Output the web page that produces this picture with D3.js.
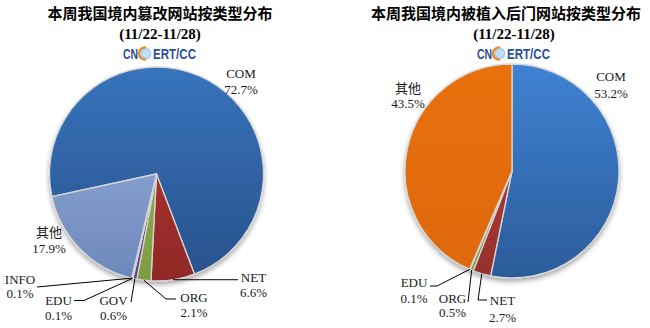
<!DOCTYPE html>
<html>
<head>
<meta charset="utf-8">
<script src="https://cdn.jsdelivr.net/npm/d3@7"></script>
<style>
  html, body { margin: 0; padding: 0; background: #fff; }
  svg { display: block; }
</style>
</head>
<body>
<svg id="chart" width="650" height="328"></svg>
<script>
// ---- data ----
const leftTitle = "本周我国境内篡改网站按类型分布";
const rightTitle = "本周我国境内被植入后门网站按类型分布";
const dateRange = "(11/22-11/28)";

const leftCategories = ["COM", "NET", "ORG", "GOV", "EDU", "INFO", "其他"];
const leftValues = [72.7, 6.6, 2.1, 0.6, 0.1, 0.1, 17.9];

const rightCategories = ["COM", "NET", "ORG", "EDU", "其他"];
const rightValues = [53.2, 2.7, 0.5, 0.1, 43.5];

// ---- styles: [top colour, bottom colour] per category ----
const leftColors = {
  "COM": ["#3774bc", "#28518b"],
  "NET": ["#bd3b38", "#8f2826"],
  "ORG": ["#98bb55", "#7d9c40"],
  "GOV": ["#7c5aa8", "#62448a"],
  "EDU": ["#4bacc6", "#3a8ea6"],
  "INFO": ["#f79646", "#d97a2c"],
  "其他": ["#9ab4e0", "#6c88ba"]
};
const rightColors = {
  "COM": ["#3f82d2", "#2b5c9a"],
  "NET": ["#c8403c", "#93302d"],
  "ORG": ["#95bd4f", "#7b9c3e"],
  "EDU": ["#7c5aa8", "#62448a"],
  "其他": ["#e8700d", "#de690a"]
};

// ---- layout ----
const radius = 107;
const leftPie = {
  id: "L", cx: 156.5, cy: 174, start: 257.8,
  titleX: 160, subX: 160, logoX: 159,
  labels: {
    "COM":  { x: 241,   y: [78, 94] },
    "其他": { x: 49,    y: [237, 253] },
    "INFO": { x: 20,    y: [284, 298] },
    "EDU":  { x: 58.5,  y: [305, 320] },
    "GOV":  { x: 113.5, y: [305, 320] },
    "ORG":  { x: 194,   y: [302, 317] },
    "NET":  { x: 253.5, y: [282, 297] }
  },
  leaders: {
    "INFO": [[37, 287]],
    "EDU":  [[84, 300.5], [74, 300.5]],
    "GOV":  [[131, 302]],
    "ORG":  [[166, 299], [176, 299]],
    "NET":  [[238, "same"]]
  }
};
const rightPie = {
  id: "R", cx: 512, cy: 171, start: 0,
  titleX: 506, subX: 514, logoX: 513,
  labels: {
    "COM":  { x: 611,   y: [81, 98] },
    "其他": { x: 408,   y: [93, 108] },
    "EDU":  { x: 414,   y: [287, 303] },
    "ORG":  { x: 452.5, y: [303, 317] },
    "NET":  { x: 502.5, y: [305, 322] }
  },
  leaders: {
    "EDU": [[437, 286], [430, 286]],
    "ORG": [[468, 302]],
    "NET": [[478, 300], [487, 300]]
  }
};

const svg = d3.select("#chart");
const defs = svg.append("defs");

// soft shadow under the pies
const shadow = defs.append("filter").attr("id", "shadow")
  .attr("x", "-20%").attr("y", "-20%").attr("width", "140%").attr("height", "140%");
shadow.append("feGaussianBlur").attr("in", "SourceAlpha").attr("stdDeviation", 2.5);
shadow.append("feOffset").attr("dx", 0).attr("dy", 3).attr("result", "off");
shadow.append("feComponentTransfer").append("feFuncA").attr("type", "linear").attr("slope", 0.35);
const merge = shadow.append("feMerge");
merge.append("feMergeNode");
merge.append("feMergeNode").attr("in", "SourceGraphic");

const serif = "'Liberation Serif', 'Times New Roman', serif";
const cjk = "'Noto Sans CJK SC', sans-serif";

function drawLogo(x, baseline) {
  const g = svg.append("g").attr("transform", `translate(${x},${baseline})`);
  const logoFont = "'Liberation Sans Narrow', 'Liberation Sans', Arial, sans-serif";
  g.append("text").attr("x", -36).attr("y", 0)
    .attr("font-family", logoFont).attr("font-weight", "bold").attr("font-size", 15)
    .attr("fill", "#2c4d9c").attr("textLength", 15).attr("lengthAdjust", "spacingAndGlyphs")
    .text("CN");
  // globe mark standing in for the second "C"
  const gx = -14, gy = -5.5;
  g.append("circle").attr("cx", gx).attr("cy", gy).attr("r", 6.5).attr("fill", "#bfe0f5");
  g.append("circle").attr("cx", gx + 0.8).attr("cy", gy).attr("r", 4.6)
    .attr("fill", "none").attr("stroke", "#7fb9e6").attr("stroke-width", 1.2)
    .attr("stroke-dasharray", "1 1");
  g.append("path")
    .attr("d", d3.arc().innerRadius(5).outerRadius(7.2).startAngle(Math.PI * 0.95).endAngle(Math.PI * 2.05)())
    .attr("transform", `translate(${gx},${gy})`).attr("fill", "#f08a1d");
  g.append("text").attr("x", -6).attr("y", 0)
    .attr("font-family", logoFont).attr("font-weight", "bold").attr("font-size", 15)
    .attr("fill", "#2c4d9c").attr("textLength", 43).attr("lengthAdjust", "spacingAndGlyphs")
    .text("ERT/CC");
}

function drawPie(cfg, title, categories, values, colors) {
  // titles
  svg.append("text").attr("x", cfg.titleX).attr("y", 19)
    .attr("text-anchor", "middle").attr("font-family", cjk).attr("font-weight", "bold")
    .attr("font-size", 15).attr("fill", "#000").text(title);
  svg.append("text").attr("x", cfg.subX).attr("y", 38.5)
    .attr("text-anchor", "middle").attr("font-family", serif).attr("font-weight", "bold")
    .attr("font-size", 15).attr("fill", "#000").text(dateRange);
  drawLogo(cfg.logoX, 59);

  const data = categories.map((c, i) => ({ category: c, value: values[i] }));
  const a0 = cfg.start * Math.PI / 180;
  const pie = d3.pie().sort(null).value(d => d.value)
    .startAngle(a0).endAngle(a0 + 2 * Math.PI);
  const arcs = pie(data);
  const arc = d3.arc().innerRadius(0).outerRadius(radius);

  categories.forEach(c => {
    const grad = defs.append("linearGradient")
      .attr("id", `g${cfg.id}${categories.indexOf(c)}`)
      .attr("gradientUnits", "userSpaceOnUse")
      .attr("x1", 0).attr("y1", -radius).attr("x2", 0).attr("y2", radius);
    grad.append("stop").attr("offset", "0%").attr("stop-color", colors[c][0]);
    grad.append("stop").attr("offset", "100%").attr("stop-color", colors[c][1]);
  });

  const g = svg.append("g").attr("transform", `translate(${cfg.cx},${cfg.cy})`);
  const slices = g.append("g").attr("filter", "url(#shadow)");
  slices.selectAll("path").data(arcs).join("path")
    .attr("d", arc)
    .attr("fill", d => `url(#g${cfg.id}${categories.indexOf(d.data.category)})`)
    .attr("stroke", "#d6d6d6").attr("stroke-width", 1.3).attr("stroke-linejoin", "round");

  // leader lines from slice edge to label
  arcs.forEach(d => {
    const pts = cfg.leaders[d.data.category];
    if (!pts) return;
    const mid = (d.startAngle + d.endAngle) / 2;
    const sx = cfg.cx + radius * Math.sin(mid);
    const sy = cfg.cy - radius * Math.cos(mid);
    const line = [[sx, sy]].concat(pts.map(p => [p[0], p[1] === "same" ? sy : p[1]]));
    svg.append("path").attr("d", d3.line()(line))
      .attr("fill", "none").attr("stroke", "#000").attr("stroke-width", 1);
  });

  // labels
  arcs.forEach(d => {
    const c = d.data.category;
    const lab = cfg.labels[c];
    if (!lab) return;
    const isCjk = /[\u4e00-\u9fff]/.test(c);
    svg.append("text").attr("x", lab.x).attr("y", lab.y[0])
      .attr("text-anchor", "middle")
      .attr("font-family", isCjk ? cjk : serif).attr("font-size", 13).attr("fill", "#1a1a1a")
      .text(c);
    svg.append("text").attr("x", lab.x).attr("y", lab.y[1])
      .attr("text-anchor", "middle").attr("font-family", serif).attr("font-size", 13)
      .attr("fill", "#1a1a1a").text(d3.format(".1f")(d.data.value) + "%");
  });
}

drawPie(leftPie, leftTitle, leftCategories, leftValues, leftColors);
drawPie(rightPie, rightTitle, rightCategories, rightValues, rightColors);
</script>
</body>
</html>
